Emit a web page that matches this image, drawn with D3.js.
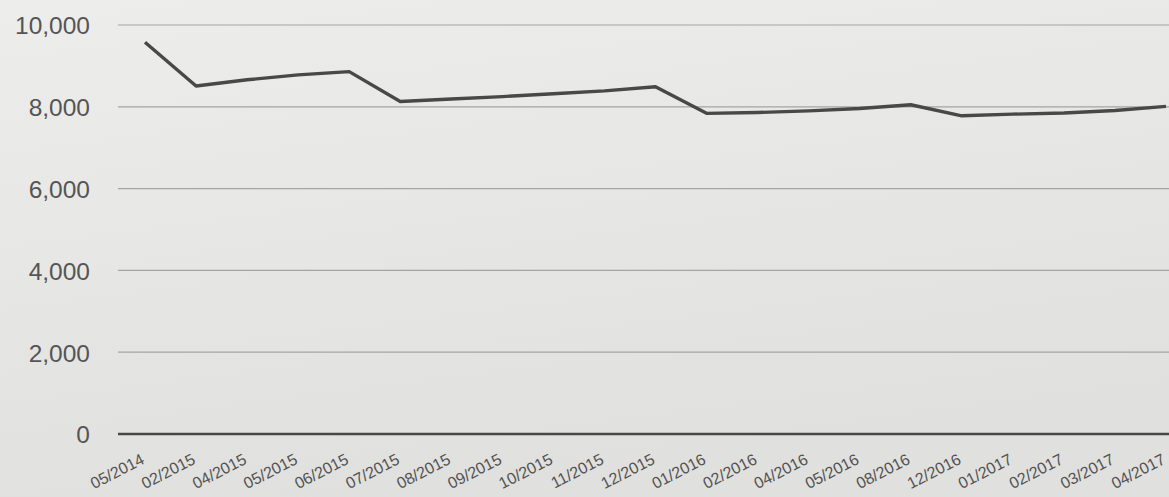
<!DOCTYPE html>
<html>
<head>
<meta charset="utf-8">
<script src="https://cdn.jsdelivr.net/npm/d3@7/dist/d3.min.js"></script>
<style>
html,body{margin:0;padding:0;background:#e6e6e4;}
svg{display:block;}
</style>
</head>
<body>
<svg id="chart" width="1169" height="497"></svg>
<script>
const categories = ["05/2014","02/2015","04/2015","05/2015","06/2015","07/2015","08/2015","09/2015","10/2015","11/2015","12/2015","01/2016","02/2016","04/2016","05/2016","08/2016","12/2016","01/2017","02/2017","03/2017","04/2017"];
const values = [9580, 8510, 8660, 8780, 8860, 8130, 8190, 8250, 8320, 8390, 8490, 7840, 7860, 7900, 7960, 8050, 7780, 7820, 7850, 7910, 8010];
const yTicks = [0, 2000, 4000, 6000, 8000, 10000];

const svg = d3.select("#chart");
const W = 1169, H = 497;

const defs = svg.append("defs");
const grad = defs.append("linearGradient").attr("id","bg").attr("x1","0").attr("y1","0").attr("x2","0.3").attr("y2","1");
grad.append("stop").attr("offset","0%").attr("stop-color","#ededeb");
grad.append("stop").attr("offset","100%").attr("stop-color","#e0e0de");
svg.append("rect").attr("width",W).attr("height",H).attr("fill","url(#bg)");

const x = d3.scalePoint().domain(categories).range([145, 1166]);
const y = d3.scaleLinear().domain([0, 10000]).range([434, 25]);

// y axis labels
const yAxis = d3.axisLeft(y).tickValues(yTicks).tickSize(0).tickFormat(d3.format(","));
const gy = svg.append("g").attr("transform","translate(118,0)").call(yAxis);
gy.select(".domain").remove();
gy.selectAll("text").attr("x", -28).attr("dy","0.36em")
  .style("font-family","'Liberation Sans', Arial, sans-serif").style("font-size","24.5px").attr("fill","#555555");

// gridlines
svg.append("g").selectAll("line").data(yTicks.filter(d=>d>0)).join("line")
  .attr("x1",118).attr("x2",W).attr("y1",d=>y(d)).attr("y2",d=>y(d))
  .attr("stroke","#a4a4a2").attr("stroke-width",1.2);

// baseline
svg.append("line").attr("x1",118).attr("x2",W).attr("y1",y(0)).attr("y2",y(0))
  .attr("stroke","#474747").attr("stroke-width",2.4);

// x labels
const xAxis = d3.axisBottom(x).tickSize(0);
const gx = svg.append("g").attr("transform",`translate(0,${y(0)})`).call(xAxis);
gx.select(".domain").remove();
gx.selectAll("text")
  .attr("text-anchor","end")
  .attr("transform","translate(0,29) rotate(-27)")
  .attr("y",0).attr("dy","0")
  .style("font-family","'Liberation Sans', Arial, sans-serif").style("font-size","16px").attr("fill","#525252");

// line
const line = d3.line().x((d,i)=>x(categories[i])).y(d=>y(d));
svg.append("path").datum(values).attr("d",line)
  .attr("fill","none").attr("stroke","#484848").attr("stroke-width",3.4).attr("stroke-linejoin","round");
</script>
</body>
</html>
